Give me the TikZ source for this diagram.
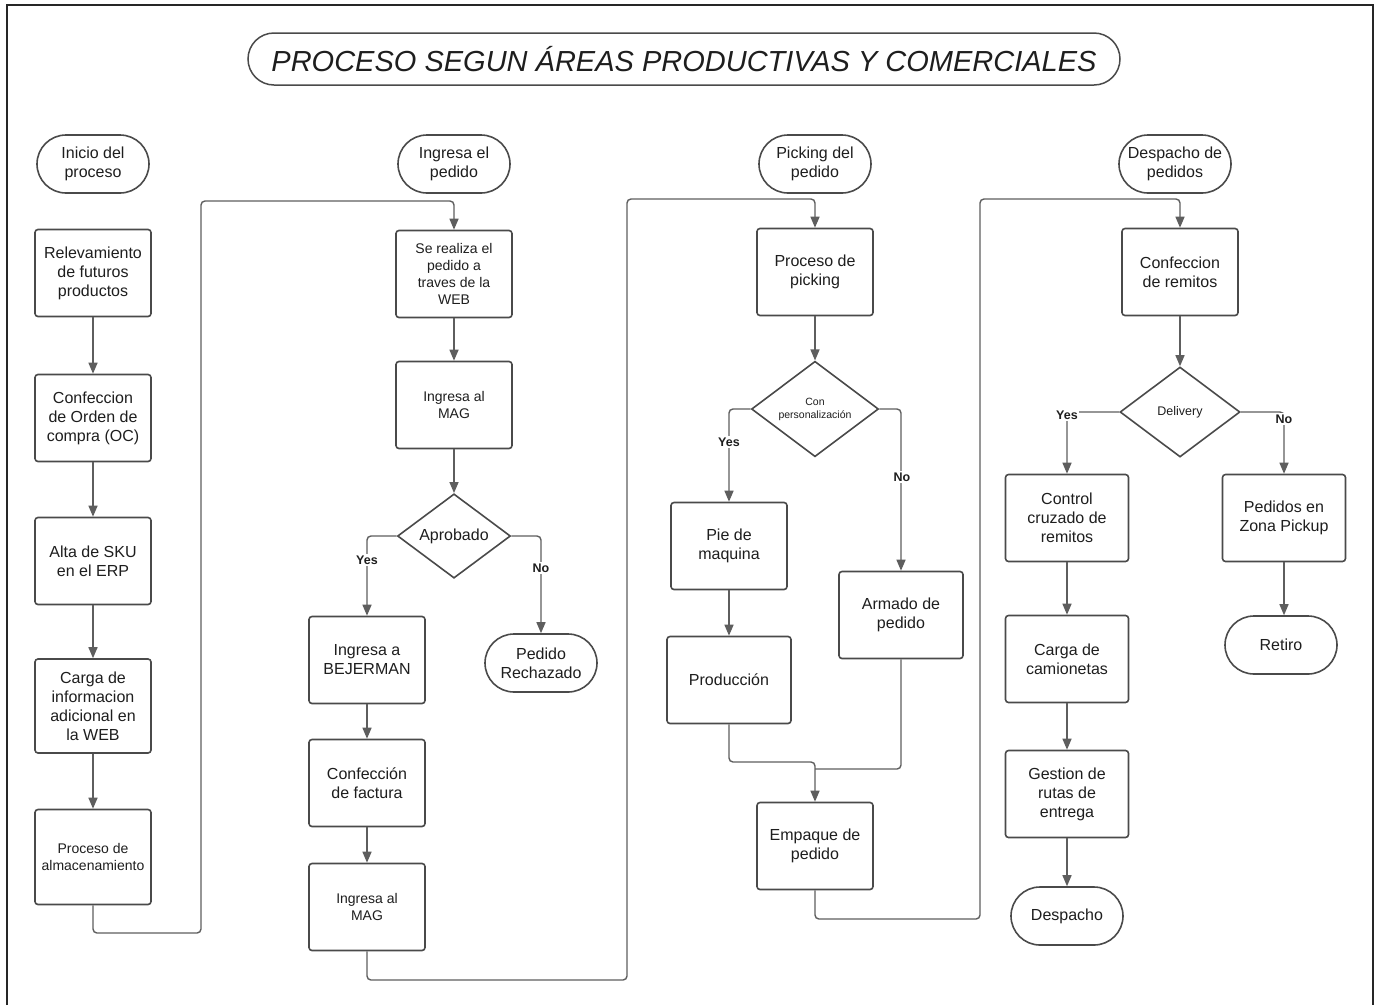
\documentclass[tikz,border=0pt]{standalone}
\usepackage{fontspec}
\setmainfont{Liberation Sans}
\usetikzlibrary{shapes.geometric,shapes.misc,arrows.meta}
\definecolor{boxc}{HTML}{4A4A4A}
\definecolor{linec}{HTML}{5E5E5E}
\definecolor{txt}{HTML}{1E1E1E}
\begin{document}
\begin{tikzpicture}[x=1pt,y=-1pt,
  base/.style={draw=boxc,line width=1.6pt,text=txt,align=center,inner sep=2pt},
  box/.style={base,rounded corners=3pt,minimum width=116pt,minimum height=87pt,font=\fontsize{16}{19}\selectfont},
  boxs/.style={box,font=\fontsize{14}{17}\selectfont},
  term/.style={base,rounded rectangle,minimum width=116pt,minimum height=58pt,font=\fontsize{16}{19}\selectfont},
  dec/.style={base,diamond,inner sep=0pt},
  conn/.style={draw=linec,line width=1.4pt,rounded corners=4pt},
  arr/.style={conn,-{Triangle[length=11pt,width=9pt]}},
  lbl/.style={fill=white,inner sep=1.5pt,text=txt,font=\fontsize{12.5}{14}\selectfont\bfseries}
]
\useasboundingbox (0,0) rectangle (1382,1005);
\fill[white] (0,0) rectangle (1382,1005);
% frame
\draw[line width=2pt,black!85] (7,1005) -- (7,5) -- (1373,5) -- (1373,1005);

% title
\node[base,rounded rectangle,minimum width=876pt,minimum height=52pt,line width=1.5pt,
      font=\fontsize{29}{34}\selectfont\itshape] (title) at (684,59)
  {PROCESO SEGUN ÁREAS PRODUCTIVAS Y COMERCIALES};

% column 1
\node[term] (t1) at (93,164) {Inicio del\\proceso};
\node[box] (a1) at (93,273) {Relevamiento\\de futuros\\productos};
\node[box] (a2) at (93,418) {Confeccion\\de Orden de\\compra (OC)};
\node[box] (a3) at (93,561) {Alta de SKU\\en el ERP};
\node[box,minimum height=94pt] (a4) at (93,706) {Carga de\\informacion\\adicional en\\la WEB};
\node[boxs,minimum height=95pt] (a5) at (93,857) {Proceso de\\almacenamiento};

% column 2
\node[term] (t2) at (454,164) {Ingresa el\\pedido};
\node[boxs] (b1) at (454,274) {Se realiza el\\pedido a\\traves de la\\WEB};
\node[boxs] (b2) at (454,405) {Ingresa al\\MAG};
\node[dec,minimum width=113pt,minimum height=83pt,font=\fontsize{16}{19}\selectfont] (b3) at (454,536) {Aprobado};
\node[box] (b4) at (367,660) {Ingresa a\\BEJERMAN};
\node[term] (b5) at (541,663) {Pedido\\Rechazado};
\node[box] (b6) at (367,783) {Confección\\de factura};
\node[boxs] (b7) at (367,907) {Ingresa al\\MAG};

% column 3
\node[term] (t3) at (815,164) {Picking del\\pedido};
\node[box] (c1) at (815,272) {Proceso de\\picking};
\node[dec,minimum width=127pt,minimum height=94pt,font=\fontsize{10.5}{13}\selectfont] (c2) at (815,409) {Con\\personalización};
\node[box] (c3) at (729,546) {Pie de\\maquina};
\node[box,minimum width=124pt] (c4) at (729,680) {Producción};
\node[box,minimum width=124pt] (c5) at (901,615) {Armado de\\pedido};
\node[box] (c6) at (815,846) {Empaque de\\pedido};

% column 4
\node[term] (t4) at (1175,164) {Despacho de\\pedidos};
\node[box] (d1) at (1180,272) {Confeccion\\de remitos};
\node[dec,minimum width=120pt,minimum height=90pt,font=\fontsize{12.5}{15}\selectfont] (d2) at (1180,412) {Delivery};
\node[box,minimum width=123pt] (d3) at (1067,518) {Control\\cruzado de\\remitos};
\node[box,minimum width=123pt] (d4) at (1284,518) {Pedidos en\\Zona Pickup};
\node[box,minimum width=123pt] (d5) at (1067,659) {Carga de\\camionetas};
\node[term] (d6) at (1281,645) {Retiro};
\node[box,minimum width=123pt] (d7) at (1067,794) {Gestion de\\rutas de\\entrega};
\node[term] (d8) at (1067,916) {Despacho};

% junction coordinates
\coordinate (j1) at (201,933);
\coordinate (j2) at (201,201);
\coordinate (k1) at (627,980);
\coordinate (k2) at (627,199);
\coordinate (m1) at (815,762);
\coordinate (m2) at (815,769);
\coordinate (n1) at (980,919);
\coordinate (n2) at (980,199);

% connectors column 1
\draw[arr] (a1) -- (a2);
\draw[arr] (a2) -- (a3);
\draw[arr] (a3) -- (a4);
\draw[arr] (a4) -- (a5);
\draw[arr] (a5.south) |- (j1) -- (j2) -| (b1.north);

% column 2
\draw[arr] (b1) -- (b2);
\draw[arr] (b2) -- (b3);
\draw[arr] (b3.west) -| (b4.north);
\draw[arr] (b3.east) -| (b5.north);
\draw[arr] (b4) -- (b6);
\draw[arr] (b6) -- (b7);
\draw[arr] (b7.south) |- (k1) -- (k2) -| (c1.north);

% column 3
\draw[arr] (c1) -- (c2);
\draw[arr] (c2.west) -| (c3.north);
\draw[arr] (c2.east) -| (c5.north);
\draw[arr] (c3) -- (c4);
\draw[arr] (c4.south) |- (m1) -- (c6.north);
\draw[conn] (c5.south) |- (m2);
\draw[arr] (c6.south) |- (n1) -- (n2) -| (d1.north);

% column 4
\draw[arr] (d1) -- (d2);
\draw[arr] (d2.west) -| (d3.north);
\draw[arr] (d2.east) -| (d4.north);
\draw[arr] (d3) -- (d5);
\draw[arr] (d5) -- (d7);
\draw[arr] (d7) -- (d8);
\draw[arr] (d4.south) -- (d4.south |- d6.north);

% branch labels
\node[lbl] (y1) at (367,560) {Yes};
\node[lbl] (n1l) at (541,568) {No};
\node[lbl] (y2) at (729,442) {Yes};
\node[lbl] (n2l) at (902,477) {No};
\node[lbl] (y3) at (1067,415) {Yes};
\node[lbl] (n3l) at (1284,419) {No};
\end{tikzpicture}
\end{document}
